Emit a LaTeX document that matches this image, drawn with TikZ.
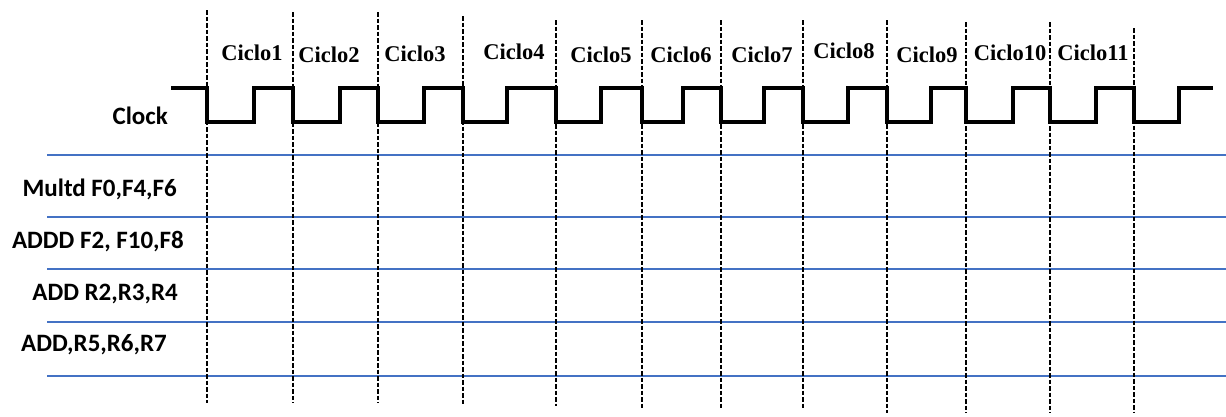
\documentclass[tikz,border=0pt]{standalone}
\usepackage{fontspec}
\setmainfont{Liberation Serif}
\newfontfamily\calib{Carlito}
\begin{document}
\begin{tikzpicture}[x=1pt,y=-1pt,
  grid/.style={draw=black, line width=1.6pt, dash pattern=on 4.5pt off 2pt},
  row/.style={draw=rowblue, line width=1.4pt},
  clk/.style={draw=black, line width=3.6pt, line join=miter},
  cyc/.style={font=\bfseries\fontsize{22.5}{24}\selectfont, inner sep=0pt},
  ins/.style={font=\calib\bfseries\fontsize{25}{27}\selectfont, inner sep=0pt, anchor=east}]
\definecolor{rowblue}{RGB}{68,114,196}
\useasboundingbox (0,0) rectangle (1226,416);
% blue rows
\foreach \y in {155,217,269,322,376}
  \draw[row] (47,\y) -- (1226,\y);
% dashed cycle boundaries
\foreach \x/\t/\b in {207/10/403, 293/12/403, 378/12/403, 463/16/406, 556/20/406, 642/20/408, 721/20/408, 803/20/408, 887/20/413, 966/22/413, 1050/22/413, 1134/28/413}
  \draw[grid] (\x,\t) -- (\x,\b);
% clock
\draw[clk] (171,88) -- (207,88) -- (207,122) -- (254,122) -- (254,88)
  -- (293,88) -- (293,122) -- (340,122) -- (340,88)
  -- (378,88) -- (378,122) -- (424,122) -- (424,88)
  -- (463,88) -- (463,122) -- (507,122) -- (507,88)
  -- (556,88) -- (556,122) -- (601,122) -- (601,88)
  -- (642,88) -- (642,122) -- (683,122) -- (683,88)
  -- (721,88) -- (721,122) -- (764,122) -- (764,88)
  -- (803,88) -- (803,122) -- (848,122) -- (848,88)
  -- (887,88) -- (887,122) -- (931,122) -- (931,88)
  -- (966,88) -- (966,122) -- (1013,122) -- (1013,88)
  -- (1050,88) -- (1050,122) -- (1096,122) -- (1096,88)
  -- (1134,88) -- (1134,122) -- (1179,122) -- (1179,88) -- (1213,88);
% cycle labels
\node[cyc] (c1) at (252,53) {Ciclo1};
\node[cyc] (c2) at (329,55) {Ciclo2};
\node[cyc] (c3) at (415,54) {Ciclo3};
\node[cyc] (c4) at (514,52) {Ciclo4};
\node[cyc] (c5) at (601,55) {Ciclo5};
\node[cyc] (c6) at (681,55) {Ciclo6};
\node[cyc] (c7) at (762,55) {Ciclo7};
\node[cyc] (c8) at (844,51) {Ciclo8};
\node[cyc] (c9) at (927,55) {Ciclo9};
\node[cyc] (c10) at (1010,53) {Ciclo10};
\node[cyc] (c11) at (1093,53) {Ciclo11};
% instruction labels
\node[ins] (clock) at (168,116) {Clock};
\node[ins] (i1) at (177,189) {Multd F0,F4,F6};
\node[ins] (i2) at (184,242) {ADDD F2, F10,F8};
\node[ins] (i3) at (178,294) {ADD R2,R3,R4};
\node[ins] (i4) at (167,345) {ADD,R5,R6,R7};
\end{tikzpicture}
\end{document}
